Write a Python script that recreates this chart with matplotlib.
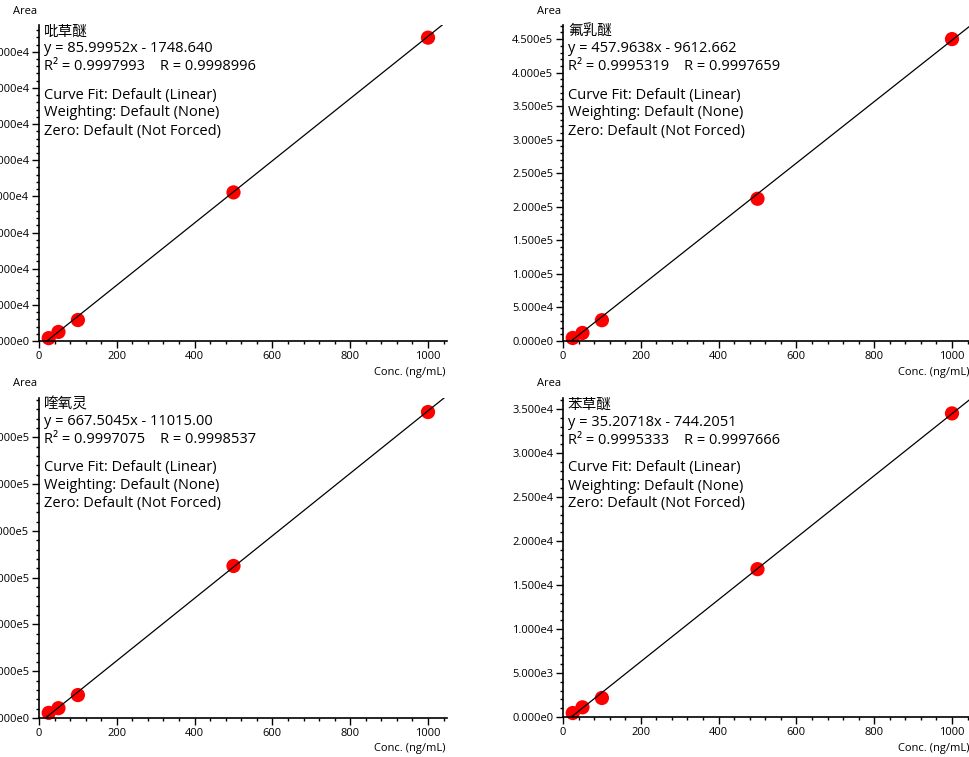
import matplotlib
matplotlib.use("Agg")
import matplotlib.pyplot as plt
from matplotlib.ticker import MultipleLocator, AutoMinorLocator, FuncFormatter

plt.rcParams['font.family'] = ['Open Sans', 'Noto Sans CJK SC', 'DejaVu Sans']

# calibration data
conc = [25, 50, 100, 500, 1000]
names = ['吡草醚', '氟乳醚', '喹氧灵', '苯草醚']
area_1 = [800, 2500, 5800, 41100, 83900]
area_2 = [4500, 12000, 31000, 212000, 450000]
area_3 = [11000, 21000, 49000, 325000, 654000]
area_4 = [450, 1100, 2160, 16800, 34500]
areas = [area_1, area_2, area_3, area_4]
slopes = [85.99952, 457.9638, 667.5045, 35.20718]
intercepts = [-1748.640, -9612.662, -11015.00, -744.2051]
eq_text = ['y = 85.99952x - 1748.640', 'y = 457.9638x - 9612.662',
           'y = 667.5045x - 11015.00', 'y = 35.20718x - 744.2051']
r2_text = ['R² = 0.9997993    R = 0.9998996', 'R² = 0.9995319    R = 0.9997659',
           'R² = 0.9997075    R = 0.9998537', 'R² = 0.9995333    R = 0.9997666']
y_max = [87400, 471000, 684000, 36250]
y_step = [10000, 50000, 100000, 5000]


def sci_fmt(v, pos):
    s = f"{v:.3e}"
    mant, exp = s.split('e')
    return f"{mant}e{int(exp)}"


W, H = 970, 757
fig = plt.figure(figsize=(W / 100, H / 100), dpi=100)

# axes boxes in pixels: left, top, bottom
boxes = [(39, 25, 341), (563, 25, 341), (39, 398, 718), (563, 398, 717)]
px_per_1000 = 389
x_max = 1048

for i, (left, top, bottom) in enumerate(boxes):
    width = px_per_1000 * x_max / 1000
    ax = fig.add_axes([left / W, 1 - bottom / H, width / W, (bottom - top) / H])
    ax.set_xlim(0, x_max)
    ax.set_ylim(0, y_max[i])
    for s in ['top', 'right']:
        ax.spines[s].set_visible(False)
    ax.spines['left'].set_linewidth(1.2)
    ax.spines['bottom'].set_linewidth(1.2)

    ax.scatter(conc, areas[i], s=105, color='#ff0000', edgecolors='none', zorder=2, clip_on=False)
    xs = [0, 1100]
    ax.plot(xs, [slopes[i] * x + intercepts[i] for x in xs], color='black', lw=0.9, zorder=3)

    ax.xaxis.set_major_locator(MultipleLocator(200))
    ax.xaxis.set_minor_locator(AutoMinorLocator(5))
    ax.yaxis.set_major_locator(MultipleLocator(y_step[i]))
    ax.yaxis.set_minor_locator(AutoMinorLocator(5))
    ax.yaxis.set_major_formatter(FuncFormatter(sci_fmt))
    ax.tick_params(which='major', length=5, width=1, labelsize=8, pad=2)
    ax.tick_params(which='minor', length=2.5, width=1)

    ax.text(-0.005, 1 + 14 / (bottom - top), 'Area', transform=ax.transAxes,
            ha='right', va='center', fontsize=8)
    ax.annotate('Conc. (ng/mL)', xy=(1, 0), xycoords='axes fraction',
                xytext=(-1, -31), textcoords='offset pixels', ha='right', va='center', fontsize=8)

    lines = [(names[i], -7), (eq_text[i], -24), (r2_text[i], -42),
             ('Curve Fit: Default (Linear)', -70), ('Weighting: Default (None)', -88),
             ('Zero: Default (Not Forced)', -106)]
    for txt, dy in lines:
        ax.annotate(txt, xy=(0, 1), xycoords='axes fraction', xytext=(5, dy),
                    textcoords='offset pixels', ha='left', va='center', fontsize=10.5)

fig.savefig('out.png', dpi=100)
